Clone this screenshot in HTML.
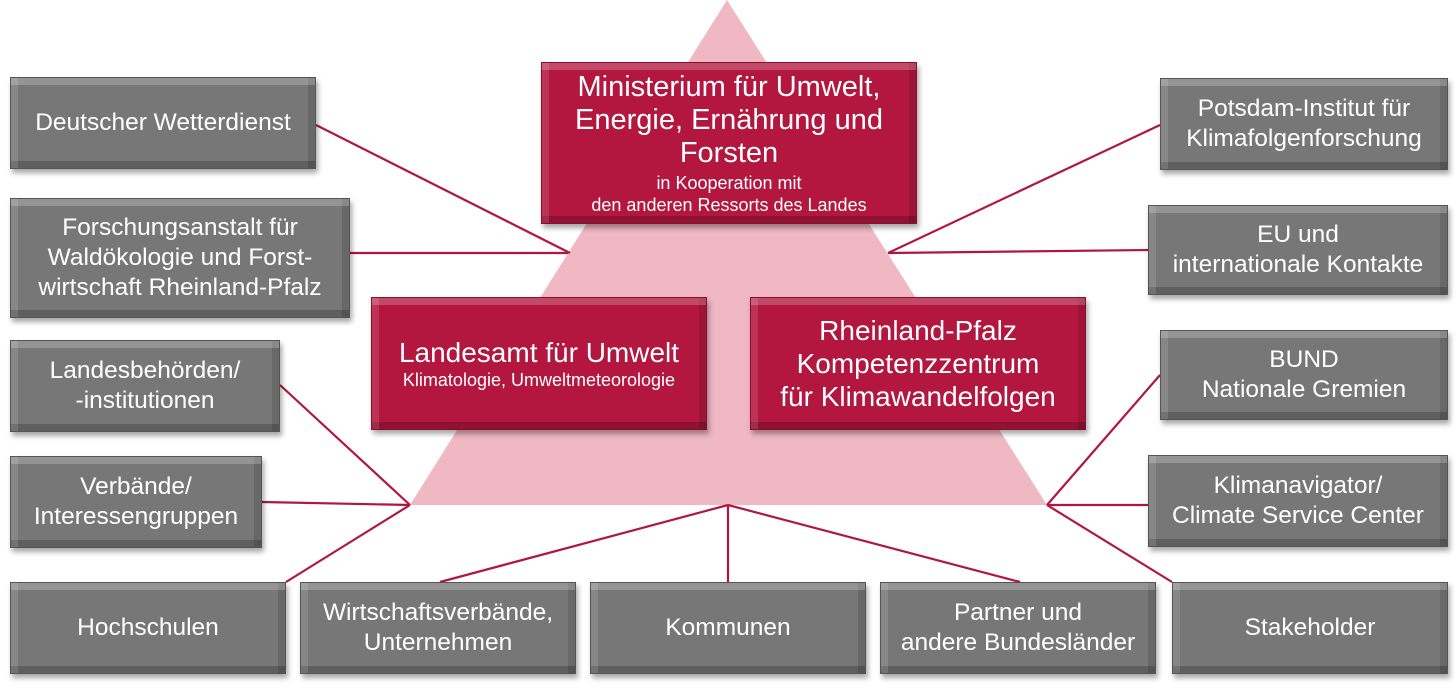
<!DOCTYPE html>
<html><head><meta charset="utf-8"><style>
body{margin:0;width:1456px;height:688px;background:#fff;position:relative;overflow:hidden;font-family:"Liberation Sans",sans-serif;}
.b{position:absolute;display:flex;align-items:center;justify-content:center;text-align:center;color:#fff;font-size:24.5px;line-height:30px;box-sizing:border-box;white-space:nowrap;
box-shadow:inset 0 7px 0 rgba(255,255,255,.22),inset 7px 0 0 rgba(255,255,255,.12),inset 0 -7px 0 rgba(0,0,0,.2),inset -7px 0 0 rgba(0,0,0,.12),2px 4px 5px rgba(0,0,0,.35);}
.g{background:#777;border:1px solid #555;}
.r{background:#b3173f;border:1px solid #8a0f2f;}
.s{font-size:18px;line-height:22px;}
</style></head><body>
<svg width="1456" height="688" style="position:absolute;left:0;top:0">
<polygon points="727,0 410,505 1047,505" fill="#efb8c3"/>
<g stroke="#b0163f" stroke-width="2.2" fill="none">
<line x1="316" y1="125" x2="570" y2="253"/>
<line x1="350" y1="253" x2="568" y2="253"/>
<line x1="280" y1="385" x2="410" y2="505"/>
<line x1="262" y1="502" x2="410" y2="505"/>
<line x1="286" y1="582" x2="410" y2="505"/>
<line x1="1160" y1="125" x2="888" y2="253"/>
<line x1="1148" y1="250" x2="888" y2="253"/>
<line x1="1160" y1="375" x2="1047" y2="505"/>
<line x1="1148" y1="505" x2="1047" y2="505"/>
<line x1="1172" y1="582" x2="1047" y2="505"/>
<line x1="440" y1="582" x2="728" y2="505"/>
<line x1="728" y1="505" x2="728" y2="582"/>
<line x1="1020" y1="582" x2="728" y2="505"/>
</g></svg>
<div class="b g" style="left:10px;top:77px;width:306px;height:92px">Deutscher Wetterdienst</div>
<div class="b g" style="left:10px;top:198px;width:340px;height:120px">Forschungsanstalt für<br>Waldökologie und Forst-<br>wirtschaft Rheinland-Pfalz</div>
<div class="b g" style="left:10px;top:340px;width:270px;height:92px">Landesbehörden/<br>-institutionen</div>
<div class="b g" style="left:10px;top:456px;width:252px;height:92px">Verbände/<br>Interessengruppen</div>
<div class="b g" style="left:10px;top:582px;width:276px;height:92px">Hochschulen</div>
<div class="b g" style="left:300px;top:582px;width:276px;height:92px">Wirtschaftsverbände,<br>Unternehmen</div>
<div class="b g" style="left:590px;top:582px;width:276px;height:92px">Kommunen</div>
<div class="b g" style="left:880px;top:582px;width:276px;height:92px">Partner und<br>andere Bundesländer</div>
<div class="b g" style="left:1172px;top:582px;width:276px;height:92px">Stakeholder</div>
<div class="b g" style="left:1160px;top:78px;width:288px;height:92px">Potsdam-Institut für<br>Klimafolgenforschung</div>
<div class="b g" style="left:1148px;top:205px;width:300px;height:90px">EU und<br>internationale Kontakte</div>
<div class="b g" style="left:1160px;top:330px;width:288px;height:90px">BUND<br>Nationale Gremien</div>
<div class="b g" style="left:1148px;top:455px;width:300px;height:92px">Klimanavigator/<br>Climate Service Center</div>
<div class="b r" style="left:541px;top:62px;width:376px;height:162px;font-size:29px;line-height:33px"><div>Ministerium für Umwelt,<br>Energie, Ernährung und<br>Forsten<div class="s" style="margin-top:2px">in Kooperation mit<br>den anderen Ressorts des Landes</div></div></div>
<div class="b r" style="left:371px;top:297px;width:336px;height:133px;font-size:28px;line-height:32px"><div>Landesamt für Umwelt<div class="s">Klimatologie, Umweltmeteorologie</div></div></div>
<div class="b r" style="left:750px;top:297px;width:336px;height:133px;font-size:28px;line-height:33px">Rheinland-Pfalz<br>Kompetenzzentrum<br>für Klimawandelfolgen</div>
</body></html>
